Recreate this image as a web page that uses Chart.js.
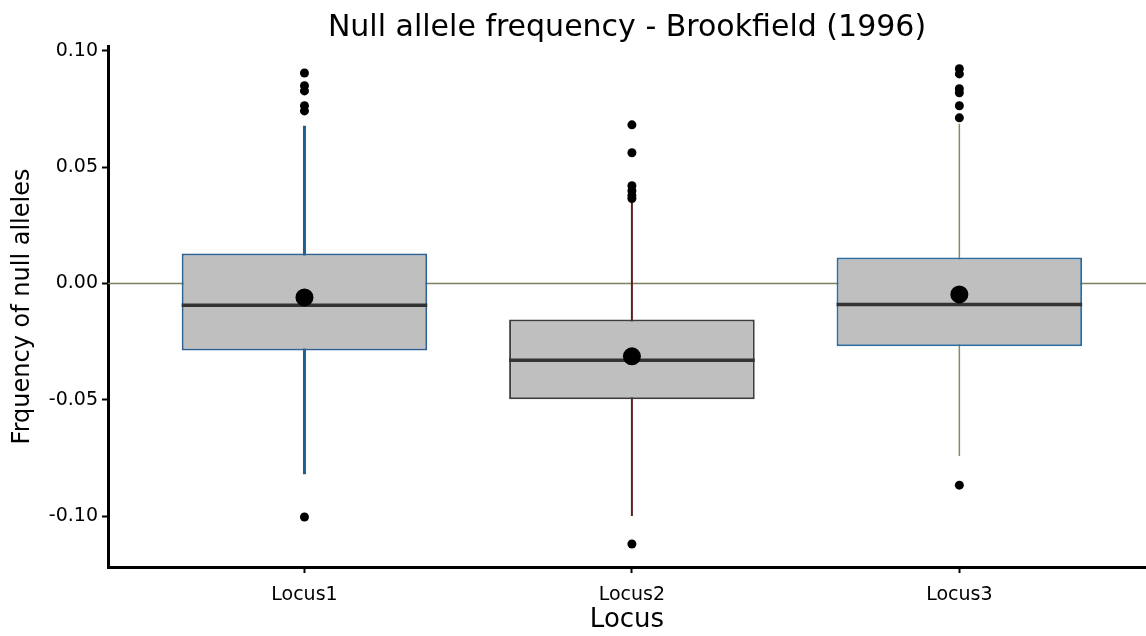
<html>
<head>
<meta charset="utf-8"/>
<title>Null allele frequency</title>
<script src="https://cdn.jsdelivr.net/npm/chart.js@4.4.1/dist/chart.umd.min.js"></script>
<style>
  html, body { margin: 0; padding: 0; background: #fff; }
  #wrap { width: 1146px; height: 636px; }
</style>
</head>
<body>
<div id="wrap"><canvas id="myChart"></canvas></div>
<script>
// data
var loci = ['Locus1', 'Locus2', 'Locus3'];
var q1 = [-0.0288, -0.0498, -0.0270];
var q3 = [0.0129, -0.0155, 0.0112];
var medians = [-0.0094, -0.0330, -0.0090];
var means = [-0.0060, -0.0313, -0.0047];
var whiskerLow = [-0.0820, -0.1000, -0.0742];
var whiskerHigh = [0.0678, 0.0356, 0.0687];
var outliers = [
    [0.0905, 0.0850, 0.0828, 0.0764, 0.0742, -0.1004],
    [0.0682, 0.0562, 0.0420, 0.0399, 0.0378, 0.0365, -0.1120],
    [0.0923, 0.0901, 0.0837, 0.0820, 0.0764, 0.0712, -0.0867]
];
var yTicks = [-0.10, -0.05, 0.00, 0.05, 0.10];
var yMin = -0.1219, yMax = 0.1021;
var xMin = 0.4, xMax = 3.57;

var boxBorder = ['#2f6290', '#3c3c3c', '#2f6da0'];
var whiskerColor = ['#1f5f8f', '#5a2020', '#8a8a5a'];
var whiskerWidth = [3, 2, 1.5];
var halfBox = 0.375;
var fontName = 'DejaVu Sans';

var datasets = [];

// horizontal line at zero
datasets.push({
    type: 'line', label: 'zero', order: 6,
    data: [{x: xMin, y: 0}, {x: xMax, y: 0}],
    borderColor: '#7e7e62', borderWidth: 1.5, pointRadius: 0
});

// whiskers
for (var i = 0; i < loci.length; i++) {
    datasets.push({
        type: 'line', label: 'whisker' + i, order: 5,
        data: [{x: i + 1, y: whiskerLow[i]}, {x: i + 1, y: whiskerHigh[i]}],
        borderColor: whiskerColor[i], borderWidth: whiskerWidth[i], pointRadius: 0
    });
}

// boxes
var boxData = [];
for (var i = 0; i < loci.length; i++) {
    boxData.push({x: i + 1, y: [q1[i], q3[i]]});
}
datasets.push({
    type: 'bar', label: 'box', order: 4,
    data: boxData,
    backgroundColor: '#bfbfbf',
    borderColor: boxBorder,
    borderWidth: 2,
    borderSkipped: false,
    barPercentage: 1.0,
    categoryPercentage: 0.75
});

// medians
for (var i = 0; i < loci.length; i++) {
    datasets.push({
        type: 'line', label: 'median' + i, order: 3,
        data: [{x: i + 1 - halfBox, y: medians[i]}, {x: i + 1 + halfBox, y: medians[i]}],
        borderColor: '#333333', borderWidth: 3.5, pointRadius: 0
    });
}

// outliers
var outPts = [];
for (var i = 0; i < loci.length; i++) {
    for (var j = 0; j < outliers[i].length; j++) {
        outPts.push({x: i + 1, y: outliers[i][j]});
    }
}
datasets.push({
    type: 'scatter', label: 'outliers', order: 2,
    data: outPts,
    backgroundColor: '#000', borderColor: '#000', pointRadius: 4.5, borderWidth: 0
});

// means
var meanPts = [];
for (var i = 0; i < loci.length; i++) {
    meanPts.push({x: i + 1, y: means[i]});
}
datasets.push({
    type: 'scatter', label: 'means', order: 1,
    data: meanPts,
    backgroundColor: '#000', borderColor: '#000', pointRadius: 9, borderWidth: 0
});

var ctx = document.getElementById('myChart');
var myChart = new Chart(ctx, {
    type: 'bar',
    data: { datasets: datasets },
    options: {
        responsive: true,
        maintainAspectRatio: false,
        animation: false,
        layout: { autoPadding: false, padding: 0 },
        plugins: {
            legend: { display: false },
            tooltip: { enabled: false },
            title: {
                display: true,
                fullSize: false,
                text: 'Null allele frequency - Brookfield (1996)',
                color: '#000',
                font: { family: fontName, size: 30, weight: 'normal' },
                padding: { top: 10, bottom: 0 }
            }
        },
        scales: {
            x: {
                type: 'linear',
                min: xMin, max: xMax,
                offset: false,
                afterBuildTicks: function (scale) {
                    scale.ticks = loci.map(function (l, k) { return {value: k + 1}; });
                },
                afterFit: function (scale) { scale.height = 69; },
                ticks: {
                    color: '#000',
                    font: { family: fontName, size: 19 },
                    padding: 11,
                    callback: function (v) { return loci[v - 1]; }
                },
                grid: { offset: false, drawOnChartArea: false, drawTicks: true, tickLength: 6, tickColor: '#000', tickWidth: 2 },
                border: { display: true, color: '#000', width: 3 },
                title: {
                    display: true, text: 'Locus', color: '#000',
                    font: { family: fontName, size: 26 },
                    padding: { top: 0, bottom: 0 }
                }
            },
            y: {
                type: 'linear',
                min: yMin, max: yMax,
                afterBuildTicks: function (scale) {
                    scale.ticks = yTicks.map(function (v) { return {value: v}; });
                },
                afterFit: function (scale) { scale.width = 108; },
                ticks: {
                    color: '#000',
                    font: { family: fontName, size: 19 },
                    padding: 4,
                    callback: function (v) { return v.toFixed(2); }
                },
                grid: { drawOnChartArea: false, drawTicks: true, tickLength: 6, tickColor: '#000', tickWidth: 2 },
                border: { display: true, color: '#000', width: 3 },
                title: {
                    display: true, text: 'Frquency of null alleles', color: '#000',
                    font: { family: fontName, size: 24 },
                    padding: { top: 8, bottom: 0 }
                }
            }
        }
    }
});
</script>
</body>
</html>
